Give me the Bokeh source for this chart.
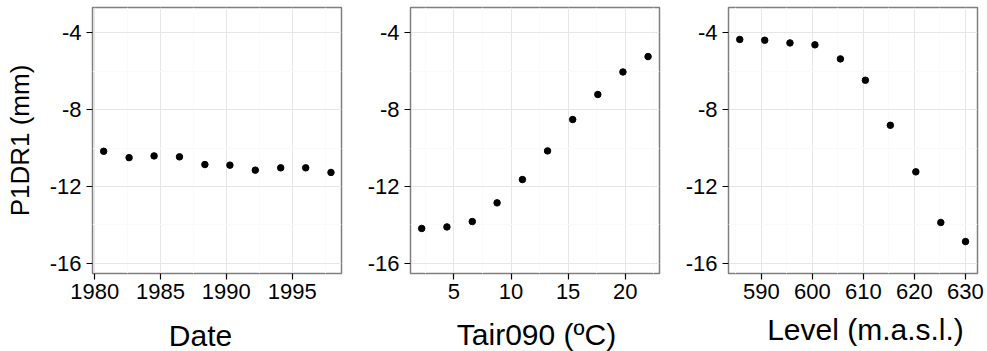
from bokeh.plotting import figure
from bokeh.models import Range1d, FixedTicker
from bokeh.layouts import row, column
from bokeh.core.properties import value
from bokeh.embed import file_html
from bokeh.resources import INLINE

# ---- data ----
date = [1980.68, 1982.61, 1984.51, 1986.44, 1988.37, 1990.27, 1992.20, 1994.13, 1996.03, 1997.95]
p1dr1_date = [-10.17, -10.50, -10.41, -10.46, -10.86, -10.89, -11.15, -11.03, -11.03, -11.27]

tair090 = [2.18, 4.39, 6.61, 8.78, 11.00, 13.20, 15.40, 17.60, 19.80, 22.00]
p1dr1_tair = [-14.18, -14.10, -13.82, -12.85, -11.64, -10.15, -8.52, -7.22, -6.05, -5.25]

level = [585.75, 590.65, 595.60, 600.50, 605.50, 610.40, 615.30, 620.30, 625.20, 630.05]
p1dr1_level = [-4.36, -4.40, -4.54, -4.64, -5.37, -6.48, -8.82, -11.24, -13.87, -14.86]

y_ticks = [-16, -12, -8, -4]
y_tick_labels = ["-16", "-12", "-8", "-4"]
y_minor = [-14, -10, -6]

date_ticks = [1980, 1985, 1990, 1995]
date_minor = [1982.5, 1987.5, 1992.5, 1997.5]
tair_ticks = [5, 10, 15, 20]
tair_minor = [2.5, 7.5, 12.5, 17.5, 22.5]
level_ticks = [590, 600, 610, 620, 630]
level_minor = [585, 595, 605, 615, 625]

y_title = "P1DR1 (mm)"
x_titles = ["Date", "Tair090 (ºC)", "Level (m.a.s.l.)"]

FONT = "Liberation Sans"
FRAME_W = 249
FRAME_TOP = 7
FRAME_H = 266
MAIN_H = 310
TITLE_H = 41


def make_panel(xs, ys, xr, xticks, xminor, left, right, ylabel=None):
    p = figure(width=left + FRAME_W + right, height=MAIN_H,
               min_border_left=left, min_border_right=right,
               min_border_top=FRAME_TOP, min_border_bottom=MAIN_H - FRAME_TOP - FRAME_H,
               x_range=Range1d(*xr), y_range=Range1d(-16.52, -2.70),
               output_backend="svg", toolbar_location=None, tools="")
    p.background_fill_color = "white"
    p.border_fill_color = "white"
    p.outline_line_color = "#7F7F7F"
    p.outline_line_width = 1.5

    p.xaxis.ticker = FixedTicker(ticks=xticks, minor_ticks=xminor)
    p.yaxis.ticker = FixedTicker(ticks=y_ticks, minor_ticks=y_minor)
    p.yaxis.major_label_overrides = dict(zip(y_ticks, y_tick_labels))

    for ax in (p.xaxis, p.yaxis):
        ax.axis_line_color = None
        ax.major_tick_line_color = "black"
        ax.major_tick_line_width = 1.2
        ax.major_tick_out = 6
        ax.major_tick_in = 0
        ax.minor_tick_line_color = None
        ax.major_label_text_font = FONT
        ax.major_label_text_font_size = "22px"
        ax.major_label_text_color = "black"
    p.xaxis.major_label_standoff = 4
    p.yaxis.major_label_standoff = 5

    if ylabel:
        p.yaxis.axis_label = ylabel
        p.yaxis.axis_label_text_font = FONT
        p.yaxis.axis_label_text_font_size = "26px"
        p.yaxis.axis_label_text_font_style = "normal"
        p.yaxis.axis_label_text_color = "black"
        p.yaxis.axis_label_standoff = 12

    p.xgrid.grid_line_color = "#E6E6E6"
    p.ygrid.grid_line_color = "#E6E6E6"
    p.xgrid.grid_line_width = 1
    p.ygrid.grid_line_width = 1
    p.xgrid.minor_grid_line_color = "#FAFAFA"
    p.ygrid.minor_grid_line_color = "#FAFAFA"

    p.scatter(xs, ys, size=6.5, color="black")
    return p


p1 = make_panel(date, p1dr1_date, (1979.83, 1998.75), date_ticks, date_minor, 92, 10, ylabel=y_title)
p2 = make_panel(tair090, p1dr1_tair, (1.20, 23.00), tair_ticks, tair_minor, 59, 10)
p3 = make_panel(level, p1dr1_level, (583.54, 632.40), level_ticks, level_minor, 59, 10)

total_w = p1.width + p2.width + p3.width

# x-axis titles, drawn in a strip beneath the panels (pixel coordinates of the strip)
title_x = [200, 536, 865]
title_baseline = [15.7, 17.3, 21.7]
t = figure(width=total_w, height=TITLE_H, x_range=Range1d(0, total_w), y_range=Range1d(0, TITLE_H),
           min_border_left=0, min_border_right=0, min_border_top=0, min_border_bottom=0,
           output_backend="svg", toolbar_location=None, tools="")
t.axis.visible = False
t.grid.visible = False
t.outline_line_color = None
t.background_fill_color = "white"
t.border_fill_color = "white"
t.text(x=title_x, y=title_baseline, text=x_titles, text_align="center", text_baseline="alphabetic",
       text_font=value(FONT), text_font_size="30px", text_color="black")

layout = column(row(p1, p2, p3, spacing=0), t, spacing=0)
open("out.html", "w").write(file_html(layout, INLINE))
